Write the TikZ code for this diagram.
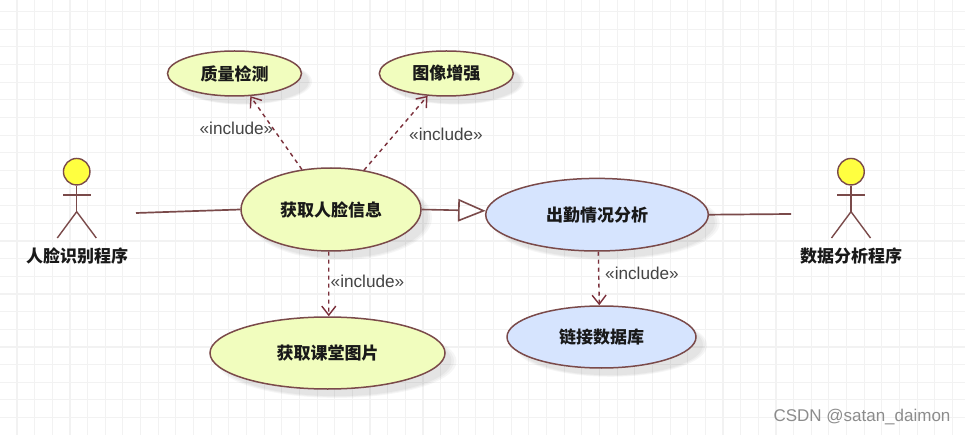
\documentclass[tikz,border=0pt]{standalone}
\usepackage{fontspec}
\setmainfont{Liberation Sans}
\newfontfamily\cjk{Noto Sans CJK SC}
\usetikzlibrary{shapes.geometric,arrows.meta,shadows}
\definecolor{edgebrown}{HTML}{7A4A4A}
\definecolor{dashbrown}{HTML}{7A2F3A}
\definecolor{usegreen}{HTML}{F1FDBE}
\definecolor{useblue}{HTML}{D6E4FE}
\definecolor{gridgray}{HTML}{F2F2F2}
\definecolor{labelgray}{HTML}{444444}
\definecolor{headyellow}{HTML}{FFFF40}
\tikzset{
  softshadow/.style={
    general shadow={shadow xshift=9pt,shadow yshift=-8pt,shadow scale=1.02,fill=black,opacity=0.035},
    general shadow={shadow xshift=9pt,shadow yshift=-8pt,fill=black,opacity=0.035},
    general shadow={shadow xshift=9pt,shadow yshift=-8pt,shadow scale=0.98,fill=black,opacity=0.035}},
  usecase/.style={ellipse,draw=edgebrown,line width=1.5pt,inner sep=0pt,softshadow,
    font=\cjk\bfseries\fontsize{17}{20}\selectfont,text=black!90},
  greencase/.style={usecase,fill=usegreen},
  bluecase/.style={usecase,fill=useblue},
  gridline/.style={gridgray,line width=1.1pt},
  actorline/.style={edgebrown,line width=1.4pt},
  actorhead/.style={circle,draw=edgebrown,line width=1.4pt,fill=headyellow,inner sep=0pt,minimum size=26.5pt},
  actorname/.style={font=\cjk\bfseries\fontsize{17}{20}\selectfont,text=black!90,inner sep=0pt},
  assoc/.style={edgebrown,line width=1.7pt},
  gener/.style={edgebrown,line width=1.6pt,-{Triangle[open,length=27.5pt,width=22.5pt,line width=1.6pt]}},
  incl/.style={dashbrown,line width=1.4pt,dash pattern=on 4pt off 4pt,-{Straight Barb[length=9pt,width=14pt,line width=1.4pt]}},
  incllabel/.style={font=\fontsize{17.2}{20}\selectfont,text=labelgray,inner sep=0pt},
  mark text/.style={font=\fontsize{17}{20}\selectfont,text=black!45,inner sep=0pt}
}
\begin{document}
\begin{tikzpicture}[x=1pt,y=-1pt]
\useasboundingbox (0,0) rectangle (965,435);
\fill[white] (0,0) rectangle (965,435);
% grid
\foreach \k in {0,...,54} \draw[gridline] ({17+17.65*\k},0) -- ({17+17.65*\k},435);
\foreach \k in {0,...,24} \draw[gridline] (0,{11.6+17.65*\k}) -- (965,{11.6+17.65*\k});
% use cases
\node[greencase,minimum width=134pt,minimum height=45pt] (quality) at (234.5,73.5) {质量检测};
\node[greencase,minimum width=134pt,minimum height=45pt] (enhance) at (446.3,73.5) {图像增强};
\node[greencase,minimum width=180pt,minimum height=83pt] (face) at (331,209.5) {获取人脸信息};
\node[bluecase,minimum width=222.6pt,minimum height=72.6pt] (analysis) at (597,214.7) {出勤情况分析};
\node[bluecase,minimum width=189pt,minimum height=62pt] (link) at (601.5,337) {链接数据库};
\node[greencase,minimum width=235pt,minimum height=72pt] (photo) at (327.5,353) {获取课堂图片};
% left actor
\node[actorhead] (headL) at (76.7,171.7) {};
\coordinate (hipL) at (76.7,211.7);
\coordinate (armLa) at (63,195);
\coordinate (armLb) at (91,195);
\coordinate (footLa) at (57.3,238);
\coordinate (footLb) at (96.3,238);
\draw[actorline] (headL.south) -- (hipL);
\draw[actorline] (armLa) -- (armLb);
\draw[actorline] (footLa) -- (hipL) -- (footLb);
\node[actorname] (nameL) at (77,256) {人脸识别程序};
% right actor
\node[actorhead] (headR) at (851,171.7) {};
\coordinate (hipR) at (851,211.7);
\coordinate (armRa) at (837,195);
\coordinate (armRb) at (865,195);
\coordinate (footRa) at (831.5,238);
\coordinate (footRb) at (870.5,238);
\draw[actorline] (headR.south) -- (hipR);
\draw[actorline] (armRa) -- (armRb);
\draw[actorline] (footRa) -- (hipR) -- (footRb);
\node[actorname] (nameR) at (851,256) {数据分析程序};
% associations
\coordinate (endL) at (136,213);
\coordinate (endR) at (791,214);
\draw[assoc] (endL) -- (face.west);
\draw[assoc] (analysis.east) -- (endR);
\draw[gener] (face.east) -- (analysis.178.5);
% includes
\draw[incl] (face.126) -- (quality.305);
\draw[incl] (face.50.5) -- (enhance.230);
\draw[incl] (face.267) -- (photo.88);
\draw[incl] (analysis.272) -- (link.94.6);
% labels
\node[incllabel] (l1) at (236.5,128.5) {«include»};
\node[incllabel] (l2) at (446,134.5) {«include»};
\node[incllabel] (l3) at (367.5,281.5) {«include»};
\node[incllabel] (l4) at (642,273.5) {«include»};
\node[mark text] (wm) at (862,417) {CSDN @satan\_daimon};
\end{tikzpicture}
\end{document}
